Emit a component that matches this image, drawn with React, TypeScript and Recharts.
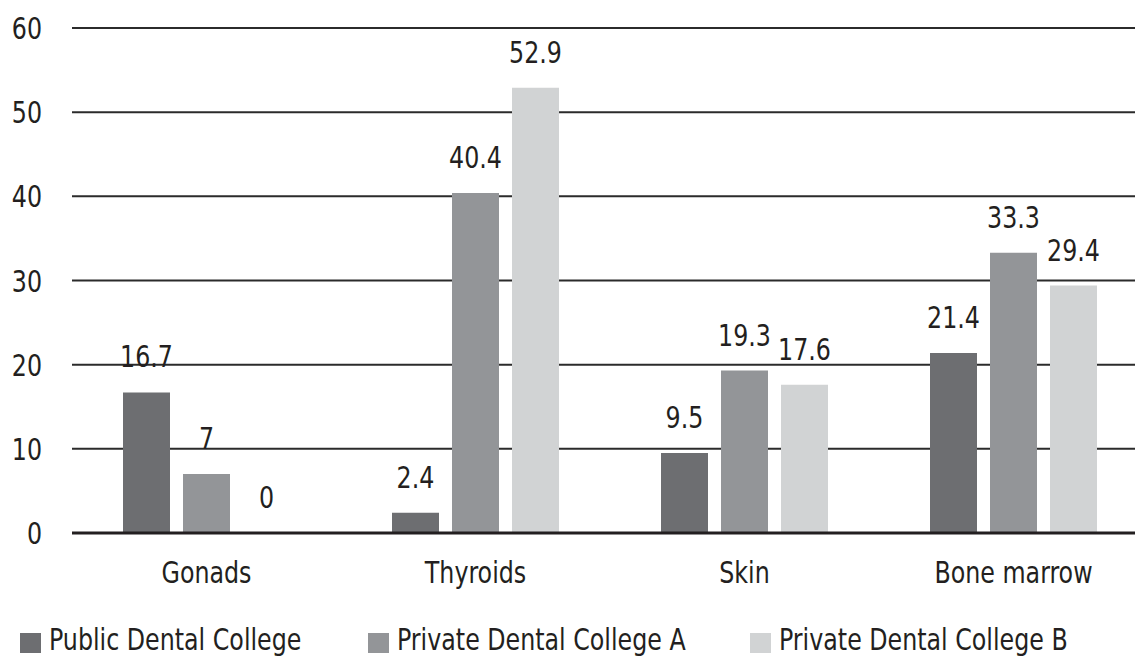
import React from 'react';
import { BarChart, Bar, XAxis, YAxis, CartesianGrid, Legend, LabelList } from 'recharts';

const categories = ['Gonads', 'Thyroids', 'Skin', 'Bone marrow'];
const publicCollege = [16.7, 2.4, 9.5, 21.4];
const privateA = [7, 40.4, 19.3, 33.3];
const privateB = [0, 52.9, 17.6, 29.4];
const yTicks = [0, 10, 20, 30, 40, 50, 60];
const seriesNames = ['Public Dental College', 'Private Dental College A', 'Private Dental College B'];
const seriesColors = ['#6d6e71', '#939598', '#d1d3d4'];
const legendWidths = [348, 382, 400];

const data = categories.map((c, i) => ({
  name: c,
  pub: publicCollege[i],
  a: privateA[i],
  b: privateB[i],
}));

const FONT = "'DejaVu Sans Condensed', 'DejaVu Sans', sans-serif";
const TEXT = '#231f20';
const FS = 30;
const SX = 0.88;

function CondText(props: { x: number; y: number; anchor: 'start' | 'middle' | 'end'; dy: number; children: any }) {
  const { x, y, anchor, dy, children } = props;
  return (
    <text
      transform={`translate(${x},${y}) scale(${SX},1)`}
      x={0}
      y={dy}
      textAnchor={anchor}
      fontSize={FS}
      fill={TEXT}
      fontFamily={FONT}
    >
      {children}
    </text>
  );
}

const XTick = (props: any) => {
  const { x, y, payload } = props;
  return <CondText x={x} y={y} anchor="middle" dy={22}>{payload.value}</CondText>;
};

const YTick = (props: any) => {
  const { x, y, payload } = props;
  return <CondText x={x} y={y} anchor="end" dy={11}>{payload.value}</CondText>;
};

const BarLabel = (props: any) => {
  const { x, y, width, height, value } = props;
  if (value === undefined || value === null) return null;
  const top = Number(height) < 0.5 ? Number(y) + Number(height) : Number(y);
  return <CondText x={Number(x) + Number(width) / 2} y={top - 25} anchor="middle" dy={0}>{value}</CondText>;
};

const minSize = (value: any) => (Number(value) === 0 ? 0.01 : 0);

const renderLegend = (props: any) => {
  const payload = props.payload || [];
  const ordered = seriesNames.map((n) => payload.find((p: any) => p.value === n)).filter(Boolean);
  return (
    <div style={{ display: 'flex', height: 34, overflow: 'hidden', paddingLeft: 20, fontFamily: FONT }}>
      {ordered.map((entry: any, i: number) => (
        <div key={i} style={{ display: 'flex', alignItems: 'flex-start', width: legendWidths[i], flexShrink: 0 }}>
          <div style={{ width: 21, height: 20, marginTop: 10, background: entry.color, flexShrink: 0 }} />
          <span
            style={{
              marginLeft: 8,
              fontSize: FS,
              lineHeight: '34px',
              color: TEXT,
              whiteSpace: 'nowrap',
              display: 'inline-block',
              transform: `scaleX(${SX})`,
              transformOrigin: 'left center',
            }}
          >
            {entry.value}
          </span>
        </div>
      ))}
    </div>
  );
};

export default function App() {
  const keys = ['pub', 'a', 'b'];
  return (
    <div style={{ position: 'fixed', left: 0, top: 0, width: 1135, height: 657, overflow: 'hidden', background: '#fff', fontFamily: FONT }}>
      <BarChart
        width={1150}
        height={657}
        data={data}
        margin={{ top: 28, right: 2, bottom: 0, left: 0 }}
        barSize={47}
        barGap={13}
      >
        <CartesianGrid vertical={false} stroke="#2b2b2b" strokeWidth={2} />
        <XAxis
          dataKey="name"
          height={90}
          tickSize={0}
          tickMargin={28}
          axisLine={{ stroke: TEXT, strokeWidth: 3 }}
          tickLine={false}
          tick={<XTick />}
        />
        <YAxis
          width={72}
          domain={[0, 60]}
          ticks={yTicks}
          tickSize={0}
          tickMargin={30}
          axisLine={false}
          tickLine={false}
          tick={<YTick />}
        />
        <Legend verticalAlign="bottom" align="left" content={renderLegend} wrapperStyle={{ left: 0, bottom: 0 }} />
        {keys.map((k, i) => (
          <Bar key={k} dataKey={k} name={seriesNames[i]} fill={seriesColors[i]} minPointSize={minSize} isAnimationActive={false}>
            <LabelList dataKey={k} content={<BarLabel />} />
          </Bar>
        ))}
      </BarChart>
    </div>
  );
}
